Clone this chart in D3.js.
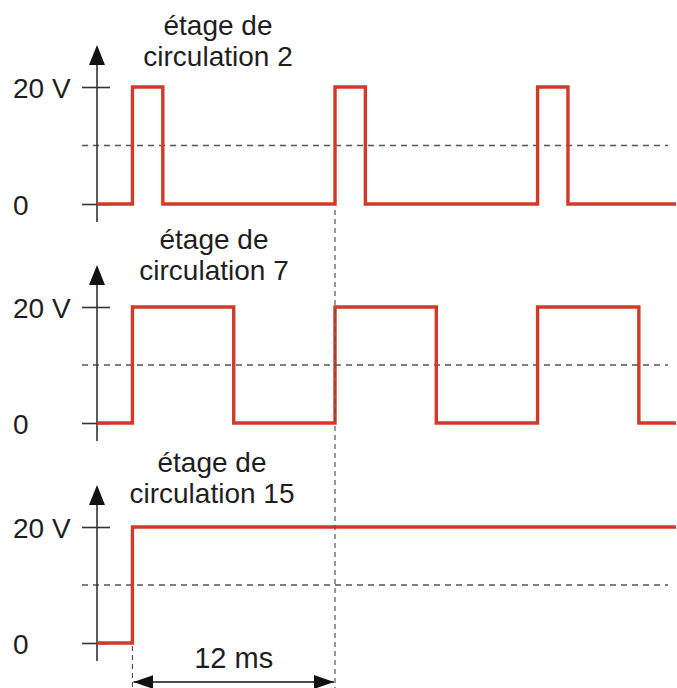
<!DOCTYPE html>
<html>
<head>
<meta charset="utf-8">
<script src="https://cdn.jsdelivr.net/npm/d3@7"></script>
<style>
  body { margin: 0; background: #fff; }
  text { font-family: "Liberation Sans", Arial, sans-serif; fill: #1e1e1e; }
</style>
</head>
<body>
<script>
  // signal levels in V, time in ms
  const levels = [0, 20];
  const threshold = 10;
  const timeDomain = [-2.1, 32.2];
  const period = 12;

  const titles = [
    ['étage de', 'circulation 2'],
    ['étage de', 'circulation 7'],
    ['étage de', 'circulation 15']
  ];

  // [time, volts] step points
  const stage2 = [[-2.1, 0], [0, 20], [1.8, 0], [12, 20], [13.8, 0], [24, 20], [25.8, 0], [32.2, 0]];
  const stage7 = [[-2.1, 0], [0, 20], [6, 0], [12, 20], [18, 0], [24, 20], [30, 0], [32.2, 0]];
  const stage15 = [[-2.1, 0], [0, 20], [32.2, 20]];
  const series = [stage2, stage7, stage15];

  const width = 677;
  const height = 688;
  const red = '#d13a28';

  // panel layout: zero level and 20 V level
  const panels = [
    { y0: 204, y20: 87, titleY: 35, titleX: 218 },
    { y0: 423, y20: 307, titleY: 249, titleX: 214 },
    { y0: 643, y20: 527, titleY: 472, titleX: 212 }
  ];
  const axisX = 97;

  const svg = d3.select('body')
          .append('svg')
          .attr('width', width)
          .attr('height', height);

  const x = d3.scaleLinear().domain(timeDomain).range([axisX, 676]);

  const defs = svg.append('defs');
  defs.append('marker')
          .attr('id', 'arrowEnd')
          .attr('viewBox', '0 0 20 14')
          .attr('refX', 20).attr('refY', 7)
          .attr('markerWidth', 20).attr('markerHeight', 14)
          .attr('markerUnits', 'userSpaceOnUse')
          .attr('orient', 'auto-start-reverse')
          .append('path')
          .attr('d', 'M0,0 L20,7 L0,14 Z')
          .attr('fill', '#111');

  const line = d3.line()
          .x(d => x(d[0]))
          .curve(d3.curveStepAfter);

  panels.forEach((p, i) => {
    const y = d3.scaleLinear().domain(levels).range([p.y0, p.y20]);
    const g = svg.append('g');

    // title
    const title = g.append('text')
            .attr('text-anchor', 'middle')
            .attr('font-size', '28px');
    titles[i].forEach((t, k) => {
      title.append('tspan')
              .attr('x', p.titleX)
              .attr('y', p.titleY + k * 31)
              .text(t);
    });

    // threshold dashed line
    g.append('line')
            .attr('x1', 82).attr('x2', 668)
            .attr('y1', y(threshold)).attr('y2', y(threshold))
            .attr('stroke', '#555')
            .attr('stroke-width', 1.3)
            .attr('stroke-dasharray', '6,5');

    // vertical axis with arrow
    g.append('line')
            .attr('x1', axisX).attr('x2', axisX)
            .attr('y1', y(0) + 18).attr('y2', y(20) - 25)
            .attr('stroke', '#333')
            .attr('stroke-width', 1.6);
    g.append('path')
            .attr('d', `M${axisX},${y(20) - 42} L${axisX + 8},${y(20) - 22} L${axisX - 8},${y(20) - 22} Z`)
            .attr('fill', '#111');

    const axis = g.append('g')
            .attr('transform', `translate(${axisX},0)`)
            .call(d3.axisLeft(y)
                    .tickValues(levels)
                    .tickSize(15)
                    .tickPadding(9)
                    .tickFormat(d => d === 0 ? '0' : d + ' V'));
    axis.select('.domain').remove();
    axis.selectAll('.tick line')
            .attr('x1', 13)
            .attr('stroke', '#333')
            .attr('stroke-width', 1.6);
    axis.selectAll('.tick text')
            .attr('x', 13 - axisX)
            .attr('dy', '0.38em')
            .attr('text-anchor', 'start')
            .attr('font-family', '"Liberation Sans", Arial, sans-serif')
            .attr('font-size', '28px')
            .attr('fill', '#1e1e1e');

    // signal
    g.append('path')
            .datum(series[i])
            .attr('fill', 'none')
            .attr('stroke', red)
            .attr('stroke-width', 3.4)
            .attr('stroke-linejoin', 'miter')
            .attr('d', line.y(d => y(d[1])));
  });

  // vertical reference lines
  svg.append('line')
          .attr('x1', x(0)).attr('x2', x(0))
          .attr('y1', panels[2].y0 + 3).attr('y2', height)
          .attr('stroke', '#555')
          .attr('stroke-width', 1.2)
          .attr('stroke-dasharray', '5,4');
  svg.append('line')
          .attr('x1', x(period)).attr('x2', x(period))
          .attr('y1', panels[0].y0 + 6).attr('y2', height)
          .attr('stroke', '#555')
          .attr('stroke-width', 1.2)
          .attr('stroke-dasharray', '5,4');

  // 12 ms dimension
  svg.append('line')
          .attr('x1', x(0) + 1).attr('x2', x(period) - 1)
          .attr('y1', 682).attr('y2', 682)
          .attr('stroke', '#111')
          .attr('stroke-width', 1.6)
          .attr('marker-start', 'url(#arrowEnd)')
          .attr('marker-end', 'url(#arrowEnd)');
  svg.append('text')
          .attr('x', (x(0) + x(period)) / 2)
          .attr('y', 668)
          .attr('text-anchor', 'middle')
          .attr('font-size', '29px')
          .text(period + ' ms');
</script>
</body>
</html>
